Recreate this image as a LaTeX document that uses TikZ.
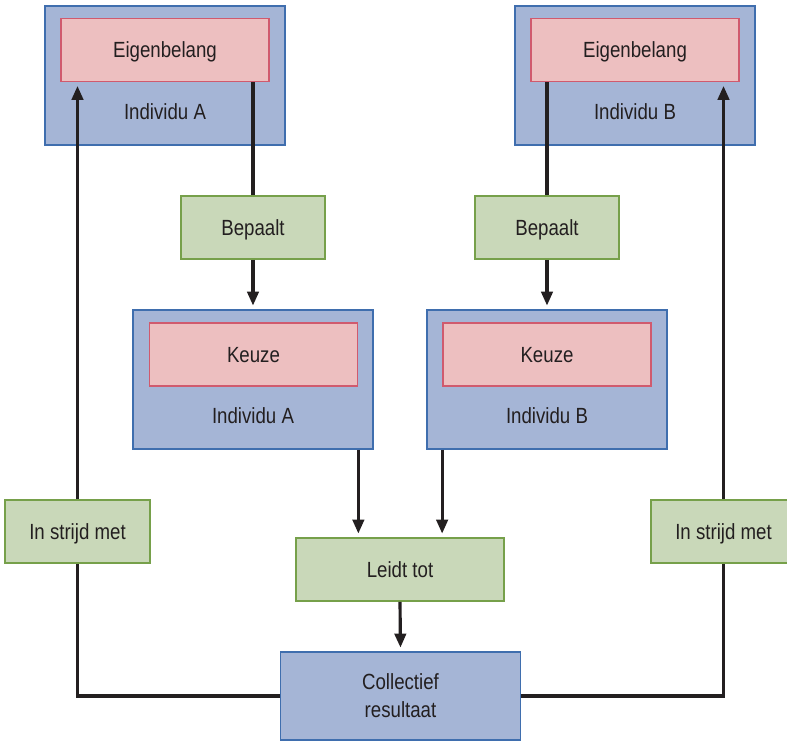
\documentclass[tikz,border=0pt]{standalone}
\usepackage{fontspec}
\setmainfont{Liberation Sans}[FakeStretch=0.85]
\usetikzlibrary{%
    arrows.meta,%
    positioning,%
    calc%
}
\definecolor{actorfill}{HTML}{A5B5D6}
\definecolor{actorline}{HTML}{3F6EAE}
\definecolor{motivefill}{HTML}{EDBFC0}
\definecolor{motiveline}{HTML}{D05A6E}
\definecolor{relfill}{HTML}{C9D8B9}
\definecolor{relline}{HTML}{76A04A}
\definecolor{textdark}{HTML}{231F20}
\tikzset{
    actor/.style = {draw = actorline, fill = actorfill, line width = 1pt, minimum
    width = 4.8cm, minimum height = 2.78cm},
    motive/.style = {draw = motiveline, fill = motivefill, line width = 1pt, minimum
    width = 4.16cm, minimum height = 1.26cm, text height = 9pt, text depth = 0pt},
    relbox/.style = {draw = relline, fill = relfill, line width = 1pt, minimum
    height = 1.26cm, text height = 9pt, text depth = 0pt},
    lbl/.style = {text height = 9pt, text depth = 0pt},
    wire/.style = {line width = 1.8pt, draw = textdark},
    arr/.style = {wire, -{Triangle[length=8pt, width=6.5pt]}, shorten > = 2pt}
}
\begin{document}
\begin{tikzpicture}[x=0.02cm, y=-0.02cm, font=\fontsize{12.5pt}{16pt}\selectfont, text=textdark]
    \useasboundingbox (0,0) rectangle (787,742);

    \node (topA) [actor] at (165,75.5) {};
    \node (eigA) [motive] at (165,50) {Eigenbelang};
    \node (nameA) [lbl] at (165,112) {Individu A};

    \node (topB) [actor] at (635,75.5) {};
    \node (eigB) [motive] at (635,50) {Eigenbelang};
    \node (nameB) [lbl] at (635,112) {Individu B};

    \node (bepA) [relbox, minimum width = 2.88cm] at (253,227.5) {Bepaalt};
    \node (bepB) [relbox, minimum width = 2.88cm] at (547,227.5) {Bepaalt};

    \node (keuzeA) [actor] at (253,379.5) {};
    \node (kzA) [motive] at (253.5,354.5) {Keuze};
    \node (knameA) [lbl] at (253,416) {Individu A};

    \node (keuzeB) [actor] at (547,379.5) {};
    \node (kzB) [motive] at (547,354.5) {Keuze};
    \node (knameB) [lbl] at (547,416) {Individu B};

    \node (strijdA) [relbox, minimum width = 2.9cm] at (77.5,531.5) {In strijd met};
    \node (strijdB) [relbox, minimum width = 2.9cm] at (723.5,531.5) {In strijd met};

    \node (leidt) [relbox, minimum width = 4.16cm] at (400,569.5) {Leidt tot};
    \node[align=center] (coll) [actor, minimum height = 1.76cm] at (400.5,696) {Collectief\\resultaat};

    \draw[wire] (bepA.north |- eigA.south) -- (bepA.north);
    \draw[arr] (bepA.south) -- (bepA.south |- keuzeA.north);
    \draw[wire] (bepB.north |- eigB.south) -- (bepB.north);
    \draw[arr] (bepB.south) -- (bepB.south |- keuzeB.north);

    \draw[arr] (kzA.east |- keuzeA.south) -- (kzA.east |- leidt.north);
    \draw[arr] (kzB.west |- keuzeB.south) -- (kzB.west |- leidt.north);
    \draw[arr] (leidt.south) -- (coll.north);

    \draw[wire] (coll.west) -| (strijdA.south);
    \draw[arr] (strijdA.north) -- (strijdA.north |- eigA.south);
    \draw[wire] (coll.east) -| (strijdB.south);
    \draw[arr] (strijdB.north) -- (strijdB.north |- eigB.south);

\end{tikzpicture}
\end{document}
